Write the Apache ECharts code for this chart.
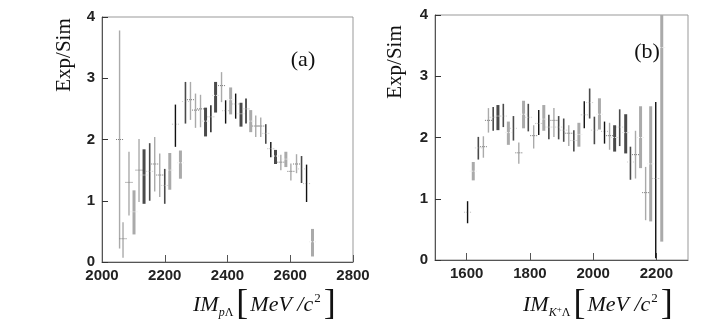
<!DOCTYPE html>
<html>
<head>
<meta charset="utf-8">
<script src="https://cdn.jsdelivr.net/npm/echarts@6/dist/echarts.min.js"></script>
<style>
  html, body { margin: 0; padding: 0; background: #fff; }
  #chart { width: 719px; height: 329px; }
</style>
</head>
<body>
<div id="chart"></div>
<script>
// panel (a): p-Lambda invariant mass
let massA = [2056, 2067, 2086, 2102, 2118, 2134, 2152, 2168, 2184, 2200, 2216, 2234, 2250,
  2266, 2282, 2298, 2314, 2330, 2347, 2362, 2381, 2394, 2410, 2426, 2443, 2459, 2474,
  2490, 2506, 2522, 2538, 2553, 2570, 2586, 2602, 2620, 2636, 2652, 2671]
let ratioA = [2.0, 0.38, 1.3, 0.82, 1.5, 1.42, 1.48, 1.6, 1.42, 1.25, 1.5, 2.25, 1.62,
  2.62, 2.65, 2.48, 2.5, 2.3, 2.37, 2.72, 2.88, 2.47, 2.65, 2.58, 2.42, 2.5, 2.3,
  2.22, 2.22, 2.1, 1.85, 1.73, 1.63, 1.68, 1.48, 1.6, 1.52, 1.28, 0.33]
let lowA = [0.22, 0.07, 0.76, 0.45, 0.98, 0.95, 1.0, 1.15, 1.06, 0.95, 1.18, 1.88, 1.36,
  2.26, 2.32, 2.19, 2.2, 2.05, 2.12, 2.44, 2.61, 2.26, 2.41, 2.34, 2.21, 2.26, 2.12,
  2.04, 2.04, 1.93, 1.71, 1.6, 1.5, 1.55, 1.33, 1.45, 1.29, 0.98, 0.09]
let highA = [3.78, 0.65, 1.8, 1.17, 2.01, 1.84, 1.94, 2.04, 1.77, 1.52, 1.78, 2.57, 1.82,
  2.94, 2.94, 2.75, 2.73, 2.52, 2.56, 2.94, 3.1, 2.64, 2.85, 2.75, 2.6, 2.67, 2.48,
  2.39, 2.36, 2.25, 1.96, 1.83, 1.75, 1.8, 1.61, 1.76, 1.73, 1.59, 0.54]
// k black thin, d dark thin, D dark thick, l light thin, L light thick
let shadeA = ['l', 'l', 'l', 'L', 'l', 'D', 'd', 'l', 'l', 'd', 'L', 'k', 'L',
  'd', 'l', 'l', 'l', 'D', 'k', 'D', 'l', 'k', 'L', 'k', 'D', 'k', 'L',
  'l', 'l', 'd', 'k', 'D', 'l', 'L', 'l', 'l', 'd', 'k', 'L']
let ticksA = [2000, 2200, 2400, 2600, 2800]

// panel (b): K+ Lambda invariant mass
let massB = [1603, 1621, 1637, 1653, 1669, 1684, 1699, 1716, 1732, 1748, 1765, 1780, 1795,
  1812, 1828, 1844, 1860, 1876, 1891, 1907, 1923, 1939, 1955, 1972, 1989, 2004, 2020,
  2036, 2052, 2068, 2084, 2103, 2118, 2134, 2150, 2166, 2182, 2198, 2217]
let ratioB = [0.78, 1.45, 1.83, 1.85, 2.28, 2.33, 2.35, 2.35, 2.08, 2.15, 1.75, 2.38, 2.33,
  2.03, 2.23, 2.3, 2.17, 2.28, 2.17, 2.12, 2.07, 1.95, 2.05, 2.37, 2.57, 2.12, 2.38,
  2.1, 2.03, 2.0, 2.17, 2.08, 1.6, 1.72, 2.0, 1.1, 1.57, 1.33, 3.47]
let lowB = [0.6, 1.3, 1.64, 1.67, 2.08, 2.11, 2.12, 2.17, 1.88, 1.95, 1.57, 2.15, 2.1,
  1.82, 2.04, 2.11, 1.97, 2.01, 1.97, 1.93, 1.86, 1.77, 1.85, 2.15, 2.31, 1.89, 2.13,
  1.9, 1.8, 1.77, 1.86, 1.74, 1.31, 1.33, 1.5, 0.65, 0.63, 0.03, 0.3]
let highB = [0.96, 1.6, 2.01, 2.02, 2.48, 2.5, 2.53, 2.55, 2.26, 2.35, 1.92, 2.6, 2.55,
  2.2, 2.45, 2.53, 2.37, 2.48, 2.35, 2.31, 2.2, 2.12, 2.24, 2.59, 2.8, 2.34, 2.64,
  2.26, 2.24, 2.2, 2.46, 2.38, 1.85, 2.11, 2.51, 1.52, 2.51, 2.58, 4.6]
let shadeB = ['k', 'L', 'd', 'l', 'l', 'd', 'D', 'd', 'L', 'd', 'l', 'L', 'd',
  'l', 'k', 'L', 'd', 'l', 'd', 'd', 'l', 'd', 'L', 'k', 'd', 'd', 'L',
  'k', 'l', 'D', 'd', 'D', 'd', 'l', 'L', 'l', 'L', 'k', 'L']
let ticksB = [1600, 1800, 2000, 2200]

let ticksY = [0, 1, 2, 3, 4]

const SHADES = {
  k: { color: '#111', width: 1.4, mark: '#bbb' },
  d: { color: '#4a4a4a', width: 1.6, mark: '#ccc' },
  D: { color: '#4a4a4a', width: 3, mark: '#ddd' },
  l: { color: '#aaa', width: 1.4, mark: '#777' },
  L: { color: '#aaa', width: 3, mark: '#eee' }
}

function errorBars(shades) {
  return function (params, api) {
    let cs = params.coordSys
    let top = api.coord([api.value(0), api.value(3)])
    let bot = api.coord([api.value(0), api.value(2)])
    let mid = api.coord([api.value(0), api.value(1)])
    let st = SHADES[shades[params.dataIndex]]
    let y1 = Math.max(top[1], cs.y)
    let y2 = Math.min(bot[1], cs.y + cs.height)
    return {
      type: 'group',
      children: [
        { type: 'line', shape: { x1: top[0], y1: y1, x2: top[0], y2: y2 },
          style: { stroke: st.color, lineWidth: st.width } },
        { type: 'line', shape: { x1: mid[0] - 3.5, y1: mid[1], x2: mid[0] + 3.5, y2: mid[1] },
          style: { stroke: st.mark, lineWidth: 1, lineDash: [1, 1] } }
      ]
    }
  }
}

function rows(mass, val, lo, hi) {
  return mass.map((m, i) => [m, val[i], lo[i], hi[i]])
}

const tickFont = { fontFamily: 'Liberation Sans', fontWeight: 'bold', fontSize: 15, color: '#222' }

function xAxisOf(idx, min, max, ticks) {
  return {
    gridIndex: idx, type: 'value', min: min, max: max,
    axisLine: { lineStyle: { color: '#555', width: 1 } },
    axisTick: { inside: true, length: 7, customValues: ticks, lineStyle: { color: '#555' } },
    axisLabel: Object.assign({ margin: 6, customValues: ticks, formatter: v => String(v) }, tickFont),
    splitLine: { show: false }
  }
}

function yAxisOf(idx) {
  return {
    gridIndex: idx, type: 'value', min: 0, max: 4,
    axisLine: { show: true, lineStyle: { color: '#555', width: 1 } },
    axisTick: { inside: true, length: 6, customValues: ticksY, lineStyle: { color: '#333' } },
    axisLabel: Object.assign({ margin: 7, customValues: ticksY }, tickFont),
    splitLine: { show: false }
  }
}

const serif = 'Liberation Serif'

function massTitle(x, subTokens) {
  return {
    type: 'text', x: x, y: 288,
    style: {
      text: '{i|IM}' + subTokens + '{b|[}{i|MeV /c}{p|2}{b|]}',
      rich: {
        i: { fontFamily: serif, fontStyle: 'italic', fontSize: 22, lineHeight: 34, fill: '#111' },
        s: { fontFamily: serif, fontStyle: 'italic', fontSize: 12, verticalAlign: 'bottom', padding: [0, 0, 3, 0], fill: '#111' },
        u: { fontFamily: serif, fontSize: 9, verticalAlign: 'bottom', padding: [0, 0, 8, 0], fill: '#111' },
        g: { fontFamily: serif, fontSize: 12, verticalAlign: 'bottom', padding: [0, 1, 3, 0], fill: '#111' },
        b: { fontFamily: serif, fontSize: 36, lineHeight: 34, fill: '#111', padding: [0, 2, 0, 2] },
        p: { fontFamily: serif, fontSize: 13, verticalAlign: 'top', padding: [4, 1, 0, 1], fill: '#111' }
      }
    }
  }
}

function sideText(x, y, text, rotate, size) {
  return {
    type: 'text', x: x, y: y, rotation: rotate,
    style: { text: text, fontFamily: serif, fontSize: size, fill: '#111',
      align: 'center', verticalAlign: 'middle' }
  }
}

let chart = echarts.init(document.getElementById('chart'), null, { renderer: 'canvas' })
chart.setOption({
  animation: false,
  backgroundColor: '#fff',
  grid: [
    { left: 102, top: 17, width: 251, height: 245, show: true, borderColor: '#999', borderWidth: 1 },
    { left: 435, top: 15, width: 253, height: 245, show: true, borderColor: '#999', borderWidth: 1 }
  ],
  xAxis: [xAxisOf(0, 2000, 2800, ticksA), xAxisOf(1, 1500, 2300, ticksB)],
  yAxis: [yAxisOf(0), yAxisOf(1)],
  series: [
    { type: 'custom', xAxisIndex: 0, yAxisIndex: 0, renderItem: errorBars(shadeA),
      data: rows(massA, ratioA, lowA, highA) },
    { type: 'custom', xAxisIndex: 1, yAxisIndex: 1, renderItem: errorBars(shadeB),
      data: rows(massB, ratioB, lowB, highB) }
  ],
  graphic: [
    sideText(64, 55, 'Exp/Sim', Math.PI / 2, 21),
    sideText(395, 62, 'Exp/Sim', Math.PI / 2, 21),
    sideText(303, 60, '(a)', 0, 22),
    sideText(647, 52, '(b)', 0, 22),
    massTitle(193, '{s|p}{g|Λ}'),
    massTitle(523, '{s|K}{u|+}{g|Λ}')
  ]
})
</script>
</body>
</html>
